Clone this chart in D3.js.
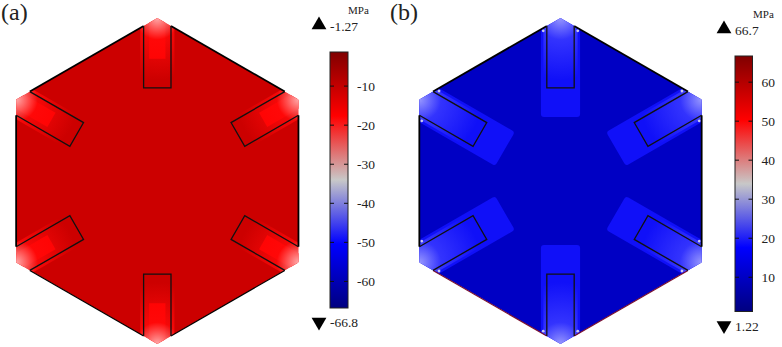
<!DOCTYPE html>
<html>
<head>
<meta charset="utf-8">
<script src="https://cdn.jsdelivr.net/npm/d3@7"></script>
<style>
html,body{margin:0;padding:0;background:#fff;}
text{font-family:"Liberation Serif",serif;fill:#222;}
</style>
</head>
<body>
<script>
// hexagon and slot geometry in model units, circumradius = 1
var hexAngles=[0,60,120,180,240,300];
var slotAngles=[0,60,120,180,240,300];
var slotHalfWidth=0.084;
var slotInner=0.571;
var patchA={halfWidth:0.05,inner:0.75};
var patchB={halfWidth:0.12,inner:0.393};

// colormap, low value to high value
var cmapPos=[0,0.25,0.5,0.75,1];
var cmapColors=["#000080","#0000ff","#c8c8c8","#ff0000","#800000"];

// panel a
var ticksA=[-10,-20,-30,-40,-50,-60];
var rangeA=[-66.8,-1.27];
var labelsA=["-1.27","-66.8"];
// panel b
var ticksB=[10,20,30,40,50,60];
var rangeB=[1.22,66.7];
var labelsB=["66.7","1.22"];

var svg=d3.select("body").append("svg").attr("width",782).attr("height",347);
var defs=svg.append("defs");

var cmapGrad=defs.append("linearGradient").attr("id","cmap").attr("x1",0).attr("x2",0).attr("y1",1).attr("y2",0);
cmapPos.forEach(function(p,i){
	cmapGrad.append("stop").attr("offset",p).attr("stop-color",cmapColors[i]);
});

function hexPoints(){
	return hexAngles.map(function(a){
		var r=a*Math.PI/180;
		return [Math.sin(r),-Math.cos(r)];
	});
}

function drawHex(id,cx,cy,R,base,patch,patchColor,patchRound,glowColor,tipColor,lowerEdge){
	var x=d3.scaleLinear().domain([-1,1]).range([cx-R,cx+R]);
	var y=d3.scaleLinear().domain([-1,1]).range([cy-R,cy+R]);
	var line=d3.line().x(function(d){return x(d[0]);}).y(function(d){return y(d[1]);});
	var pts=hexPoints();

	defs.append("clipPath").attr("id","clip"+id).append("path").attr("d",line(pts)+"Z");
	var glow=defs.append("radialGradient").attr("id","glow"+id).attr("gradientUnits","userSpaceOnUse")
		.attr("cx",x(0)).attr("cy",y(-1)).attr("r",y(-0.62)-y(-1));
	glow.append("stop").attr("offset",0).attr("stop-color",tipColor).attr("stop-opacity",0.85);
	glow.append("stop").attr("offset",0.35).attr("stop-color",glowColor).attr("stop-opacity",0.8);
	glow.append("stop").attr("offset",1).attr("stop-color",glowColor).attr("stop-opacity",0);

	var g=svg.append("g");
	var inner=g.append("g").attr("clip-path","url(#clip"+id+")");
	inner.append("path").attr("d",line(pts)+"Z").attr("fill",base);

	// patches and glow at the vertices, one copy per slot
	slotAngles.forEach(function(a){
		var s=inner.append("g").attr("transform","rotate("+a+","+cx+","+cy+")");
		s.append("rect").attr("x",x(-patch.halfWidth)).attr("width",x(patch.halfWidth)-x(-patch.halfWidth))
			.attr("y",y(-1)).attr("height",y(-patch.inner)-y(-1))
			.attr("rx",patchRound).attr("fill",patchColor);
		s.append("rect").attr("x",x(-slotHalfWidth*1.25)).attr("width",x(slotHalfWidth*1.25)-x(-slotHalfWidth*1.25))
			.attr("y",y(-1)).attr("height",y(-0.6)-y(-1)).attr("fill","url(#glow"+id+")");
	});

	// outer edges stop at the slot mouths
	var slope=Math.tan(Math.PI/6);
	pts.forEach(function(p,i){
		var q=pts[(i+1)%6];
		var t=slotHalfWidth/Math.cos(Math.PI/6);
		var a0=[p[0]+(q[0]-p[0])*t,p[1]+(q[1]-p[1])*t];
		var a1=[q[0]-(q[0]-p[0])*t,q[1]-(q[1]-p[1])*t];
		var isLower=(i==2||i==3);
		g.append("path").attr("d",line([a0,a1])).attr("fill","none")
			.attr("stroke",isLower?lowerEdge:"#000").attr("stroke-width",isLower?1.2:1.8);
	});

	// slot outlines
	slotAngles.forEach(function(a){
		var top=-1+slotHalfWidth*slope;
		var s=g.append("g").attr("transform","rotate("+a+","+cx+","+cy+")");
		s.append("path").attr("d",line([[-slotHalfWidth,top],[-slotHalfWidth,-slotInner],[slotHalfWidth,-slotInner],[slotHalfWidth,top]]))
			.attr("fill","none").attr("stroke","#111").attr("stroke-width",1.3);
		if(id=="b"){
			[-1,1].forEach(function(sd){
				s.append("circle").attr("cx",x(sd*(slotHalfWidth+0.022))).attr("cy",y(top+0.03)).attr("r",1.4).attr("fill","#c9c9f0");
			});
		}
	});
}

function drawBar(id,x0,x1,y0,y1,range,ticks,labels){
	var scale=d3.scaleLinear().domain(range).range([y1,y0]);
	var g=svg.append("g");
	g.append("rect").attr("x",x0).attr("y",y0).attr("width",x1-x0).attr("height",y1-y0)
		.attr("fill","url(#cmap)").attr("stroke","#222").attr("stroke-width",1);
	g.selectAll("line.l").data(ticks).enter().append("line").attr("class","l")
		.attr("x1",x0).attr("x2",x0+4).attr("y1",scale).attr("y2",scale).attr("stroke","#111");
	g.selectAll("line.r").data(ticks).enter().append("line").attr("class","r")
		.attr("x1",x1-4).attr("x2",x1).attr("y1",scale).attr("y2",scale).attr("stroke","#111");
	g.selectAll("text.t").data(ticks).enter().append("text").attr("class","t")
		.attr("x",x1+9).attr("y",function(d){return scale(d)+4.5;})
		.attr("font-size",13.5).text(function(d){return d;});

	// max and min markers
	var mx=x0-11;
	g.append("path").attr("d",d3.symbol().type(d3.symbolTriangle).size(95)()).attr("transform","translate("+mx+","+(y0-27)+")").attr("fill","#000");
	g.append("path").attr("d",d3.symbol().type(d3.symbolTriangle).size(95)()).attr("transform","translate("+mx+","+(y1+14)+") rotate(180)").attr("fill","#000");
	g.append("text").attr("x",x0).attr("y",y0-21).attr("font-size",13.5).text(labels[0]);
	g.append("text").attr("x",x0).attr("y",y1+19).attr("font-size",13.5).text(labels[1]);
	g.append("text").attr("x",x0+18).attr("y",y0-38).attr("font-size",11).text("MPa");
}

drawHex("a",157.3,181,163,"#cc0000",patchA,"#ff0000",0,"#ff0a0a","#ffc8c8","#000");
drawHex("b",560.5,181,163,"#0000c4",patchB,"#1010f8",3,"#3c3cff","#b0b0ff","#7a1030");

drawBar("a",330,348,52,308,rangeA,ticksA,labelsA);
drawBar("b",735,752.5,56,311.5,rangeB,ticksB,labelsB);

svg.append("text").attr("x",1).attr("y",20).attr("font-size",24).text("(a)");
svg.append("text").attr("x",390).attr("y",20).attr("font-size",24).text("(b)");
</script>
</body>
</html>
